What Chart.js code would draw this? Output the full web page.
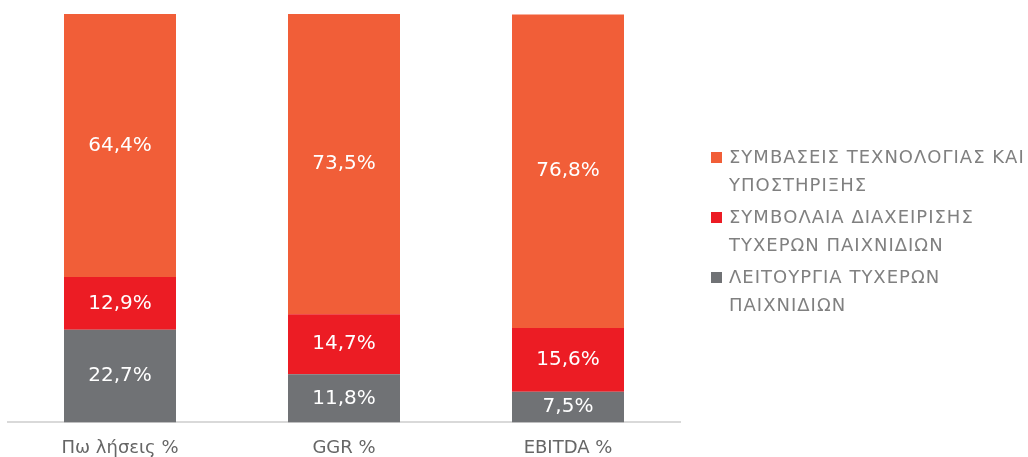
<!DOCTYPE html>
<html>
<head>
<meta charset="utf-8">
<script src="https://cdn.jsdelivr.net/npm/chart.js@4"></script>
<style>
  html, body { margin: 0; padding: 0; background: #fff; overflow: hidden; }
  #wrap { position: relative; width: 1028px; height: 457px; }
  #legend { position: absolute; left: 711px; top: 143px; font-family: "DejaVu Sans", sans-serif;
            font-size: 18px; color: #808080; letter-spacing: 1px; }
  .item { position: relative; padding-left: 18px; line-height: 28px; margin-bottom: 4px; white-space: nowrap; }
  .box { position: absolute; left: 0; top: 9px; width: 11px; height: 11px; }
</style>
</head>
<body>
<div id="wrap">
  <canvas id="mixChart" width="1028" height="457"></canvas>
  <div id="legend"></div>
</div>
<script>
var categories = ['Πω λήσεις %', 'GGR %', 'EBITDA %'];
var operation = [22.7, 11.8, 7.5];
var contracts = [12.9, 14.7, 15.6];
var technology = [64.4, 73.5, 76.8];
var seriesLines = [
    ['ΣΥΜΒΑΣΕΙΣ ΤΕΧΝΟΛΟΓΙΑΣ ΚΑΙ', 'ΥΠΟΣΤΗΡΙΞΗΣ'],
    ['ΣΥΜΒΟΛΑΙΑ ΔΙΑΧΕΙΡΙΣΗΣ', 'ΤΥΧΕΡΩΝ ΠΑΙΧΝΙΔΙΩΝ'],
    ['ΛΕΙΤΟΥΡΓΙΑ ΤΥΧΕΡΩΝ', 'ΠΑΙΧΝΙΔΙΩΝ']
];
var colors = ['#F15E38', '#EC1C24', '#707275'];

// white value labels in the middle of each segment
var valueLabels = {
    id: 'valueLabels',
    afterDatasetsDraw: function(chart) {
        var ctx = chart.ctx;
        ctx.save();
        ctx.fillStyle = '#ffffff';
        ctx.font = '20px "DejaVu Sans"';
        ctx.textAlign = 'center';
        ctx.textBaseline = 'middle';
        chart.data.datasets.forEach(function(ds, i) {
            chart.getDatasetMeta(i).data.forEach(function(bar, j) {
                var mid = (bar.y + bar.base) / 2;
                var txt = ds.data[j].toFixed(1).replace('.', ',') + '%';
                ctx.fillText(txt, bar.x, mid);
            });
        });
        ctx.restore();
    }
};

var ctx = document.getElementById('mixChart').getContext('2d');
var chart = new Chart(ctx, {
    type: 'bar',
    data: {
        labels: categories,
        datasets: [
            { label: seriesLines[2].join(' '), data: operation, backgroundColor: colors[2] },
            { label: seriesLines[1].join(' '), data: contracts, backgroundColor: colors[1] },
            { label: seriesLines[0].join(' '), data: technology, backgroundColor: colors[0] }
        ]
    },
    options: {
        responsive: false,
        animation: false,
        layout: { padding: { left: 8, right: 348, top: 14, bottom: -17 } },
        datasets: { bar: { barPercentage: 0.5, categoryPercentage: 1.0 } },
        plugins: { legend: { display: false }, tooltip: { enabled: false } },
        scales: {
            x: {
                stacked: true,
                grid: { display: false, drawTicks: false },
                border: { display: true, color: '#d9d9d9', width: 2 },
                ticks: { color: '#666666', font: { family: 'DejaVu Sans', size: 18 }, padding: 15 }
            },
            y: { stacked: true, display: false, min: 0, max: 100 }
        }
    },
    plugins: [valueLabels]
});

// html legend from the series names
var legend = document.getElementById('legend');
seriesLines.forEach(function(lines, i) {
    var item = document.createElement('div');
    item.className = 'item';
    var box = document.createElement('span');
    box.className = 'box';
    box.style.background = colors[i];
    item.appendChild(box);
    item.appendChild(document.createTextNode(lines[0]));
    item.appendChild(document.createElement('br'));
    item.appendChild(document.createTextNode(lines[1]));
    legend.appendChild(item);
});
</script>
</body>
</html>
